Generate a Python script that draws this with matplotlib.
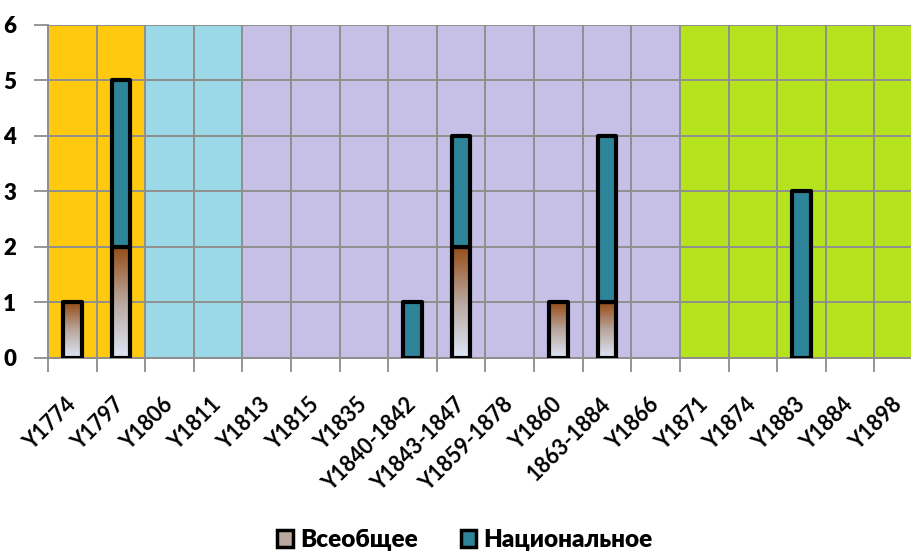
import matplotlib
matplotlib.use('Agg')
import matplotlib.pyplot as plt
import numpy as np
from matplotlib.colors import LinearSegmentedColormap
from matplotlib.patches import Patch

# ---- data ----
years = ['Y1774', 'Y1797', 'Y1806', 'Y1811', 'Y1813', 'Y1815', 'Y1835',
         'Y1840-1842', 'Y1843-1847', 'Y1859-1878', 'Y1860', '1863-1884',
         'Y1866', 'Y1871', 'Y1874', 'Y1883', 'Y1884', 'Y1898']
vseobshee    = [1, 2, 0, 0, 0, 0, 0, 0, 2, 0, 1, 1, 0, 0, 0, 0, 0, 0]
nacionalnoe  = [0, 3, 0, 0, 0, 0, 0, 1, 2, 0, 0, 3, 0, 0, 0, 3, 0, 0]

# background periods: first category index, last+1, colour
era_start  = [0, 2, 4, 13]
era_end    = [2, 4, 13, 18]
era_colors = ['#FFC90F', '#9BD9E8', '#C6BFE6', '#B5E41F']

TEAL = '#2E8499'
FONT = ['Lato', 'Noto Sans', 'DejaVu Sans']
plt.rcParams['font.family'] = FONT

grad = LinearSegmentedColormap.from_list(
    'brown_fade', ['#DDE7F8', '#B9A79E', '#964B14'])

fig = plt.figure(figsize=(9.12, 5.51), dpi=100)
ax = fig.add_axes([48 / 912, 193 / 551, 875 / 912, 333.5 / 551])

x = np.arange(len(years))
v1 = np.array(vseobshee)
v2 = np.array(nacionalnoe)
w = 0.38

for s, e, c in zip(era_start, era_end, era_colors):
    ax.axvspan(s - 0.5, e - 0.5, color=c, zorder=0.1, lw=0)

# Всеобщее: gradient filled bars (only where there is a value)
m1 = v1 > 0
bars1 = ax.bar(x[m1], v1[m1], width=w, facecolor='none', edgecolor='black',
               linewidth=3, joinstyle='round', zorder=3)
g = np.linspace(0, 1, 256).reshape(-1, 1)
for b, v in zip(bars1, v1[m1]):
    x0 = b.get_x()
    im = ax.imshow(g, cmap=grad, origin='lower', aspect='auto',
                   extent=[x0, x0 + b.get_width(), 0, v], zorder=2.9)
    im.set_clip_path(b)

# Национальное stacked on top
m2 = v2 > 0
ax.bar(x[m2], v2[m2], width=w, bottom=v1[m2], color=TEAL,
       edgecolor='black', linewidth=3, joinstyle='round', zorder=3)

ax.set_xlim(-0.5, len(years) - 0.5)
ax.set_ylim(0, 6)
ax.set_yticks(range(0, 7))

# category boundaries carry ticks and grid, centres carry labels
ax.set_xticks(np.arange(len(years) + 1) - 0.5)
ax.set_xticklabels([])
ax.set_xticks(x, minor=True)
ax.set_xticklabels(years, minor=True, rotation=45, ha='right', va='center',
                   rotation_mode='anchor', fontsize=15.5, fontweight='bold')
ax.tick_params(axis='x', which='minor', length=0, pad=31)
ax.tick_params(axis='x', which='major', length=10, color='#8c8c8c', width=1.3)
ax.tick_params(axis='y', length=10, color='#8c8c8c', width=1.3, pad=13,
               labelsize=16)
for lab in ax.get_yticklabels():
    lab.set_fontweight('heavy')

ax.set_axisbelow(False)
ax.grid(True, which='major', color='#8f8f8f', linewidth=1.4)

for side in ['top', 'right']:
    ax.spines[side].set_visible(False)
for side in ['left', 'bottom']:
    ax.spines[side].set_color('#8c8c8c')
    ax.spines[side].set_linewidth(1.4)
    ax.spines[side].set_zorder(2.5)

handles = [Patch(facecolor='#B9A79E', edgecolor='black', linewidth=2.5,
                 label='Всеобщее'),
           Patch(facecolor=TEAL, edgecolor='black', linewidth=2.5,
                 label='Национальное')]
fig.legend(handles=handles, loc='center', bbox_to_anchor=(465 / 912, 11 / 551),
           ncol=2, frameon=False, handlelength=0.65, handleheight=0.65,
           handletextpad=0.3, columnspacing=1.75,
           prop={'family': FONT, 'weight': 'heavy', 'size': 17.5})

fig.savefig('out.png', dpi=100, facecolor='white')
